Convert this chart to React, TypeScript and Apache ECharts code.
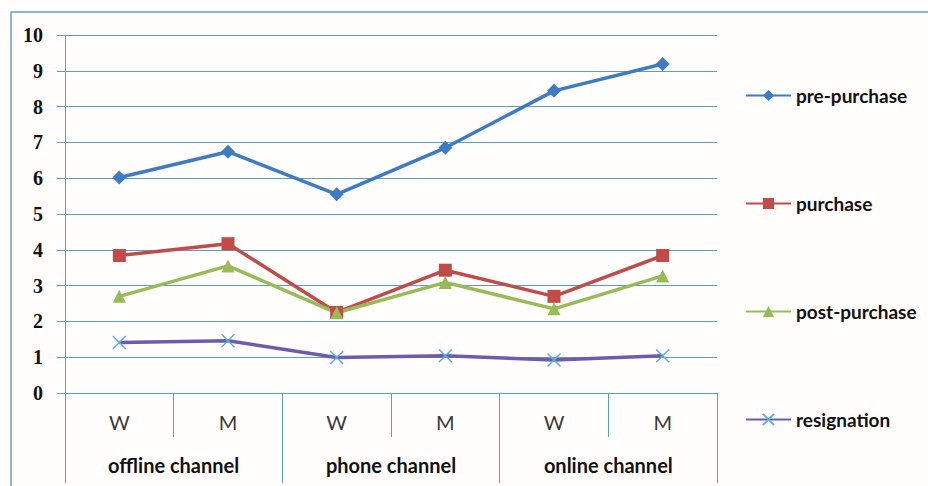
import React, { useEffect, useRef } from "react";
import * as echarts from "echarts";

const subCategories = ["W", "M", "W", "M", "W", "M"];
const groupCategories = ["offline channel", "phone channel", "online channel"];
const prePurchase = [6.02, 6.74, 5.55, 6.85, 8.44, 9.19];
const purchase = [3.84, 4.17, 2.25, 3.43, 2.7, 3.84];
const postPurchase = [2.7, 3.55, 2.24, 3.09, 2.35, 3.27];
const resignation = [1.41, 1.46, 0.99, 1.04, 0.92, 1.04];

const GRID = "#5b9fc4";

export default function App() {
  const ref = useRef<HTMLDivElement>(null);
  useEffect(() => {
    if (!ref.current) return;
    const chart = echarts.init(ref.current, undefined, { renderer: "svg" });
    const mk = (name: string, data: number[], color: string, symbol: string, size: number, markerColor?: string, stroke?: boolean) => ({
      name,
      type: "line",
      data,
      symbol,
      symbolSize: size,
      lineStyle: { color, width: 3.5 },
      itemStyle: stroke
        ? { color: "rgba(0,0,0,0)", borderColor: markerColor || color, borderWidth: 1.5 }
        : { color: markerColor || color, borderWidth: 0 },
      emphasis: { disabled: true },
    });
    chart.setOption({
      animation: false,
      backgroundColor: "#fffefc",
      graphic: [
        {
          type: "rect",
          shape: { x: 11, y: 12, width: 1000, height: 1000 },
          style: { fill: "none", stroke: "#6a9fbf", lineWidth: 1.5 },
          silent: true,
        },
      ],
      grid: { left: 65, right: 211, top: 35, bottom: 93 },
      legend: {
        orient: "vertical",
        left: 740,
        top: 81,
        itemGap: 89,
        itemWidth: 45,
        itemHeight: 14,
        textStyle: { fontFamily: "Lato", fontWeight: "bold", fontSize: 19, color: "#111", lineHeight: 17 },
        data: ["pre-purchase", "purchase", "post-purchase", "resignation"],
      },
      xAxis: [
        {
          type: "category",
          data: subCategories,
          boundaryGap: true,
          axisLine: { show: true, lineStyle: { color: GRID, width: 1 } },
          axisTick: { show: true, length: 44, lineStyle: { color: GRID, width: 1 } },
          axisLabel: { fontFamily: "Lato", fontSize: 20, color: "#3a3a3a", margin: 19 },
        },
        {
          type: "category",
          data: groupCategories,
          position: "bottom",
          offset: 44,
          boundaryGap: true,
          axisLine: { show: false },
          axisTick: { show: true, length: 46, lineStyle: { color: GRID, width: 1 } },
          axisLabel: { fontFamily: "Lato", fontSize: 20, fontWeight: "bold", color: "#111", margin: 18 },
        },
      ],
      yAxis: {
        type: "value",
        min: 0,
        max: 10,
        interval: 1,
        axisLine: { show: true, lineStyle: { color: GRID, width: 1 } },
        axisTick: { show: true, length: 8, lineStyle: { color: GRID, width: 1 } },
        axisLabel: { fontFamily: "Liberation Serif", fontWeight: "bold", fontSize: 20, color: "#111", margin: 22 },
        splitLine: { show: true, lineStyle: { color: GRID, width: 1 } },
      },
      series: [
        mk("pre-purchase", prePurchase, "#3d7bc3", "diamond", 14),
        mk("purchase", purchase, "#c04b48", "rect", 13),
        mk("post-purchase", postPurchase, "#98bb55", "triangle", 13),
        mk("resignation", resignation, "#6d5bb0", "path://M0,0L10,10M10,0L0,10", 13, "#5cb0d6", true),
      ],
    });
    return () => chart.dispose();
  }, []);
  return <div ref={ref} style={{ position: "absolute", left: 0, top: 0, width: 928, height: 486 }} />;
}
